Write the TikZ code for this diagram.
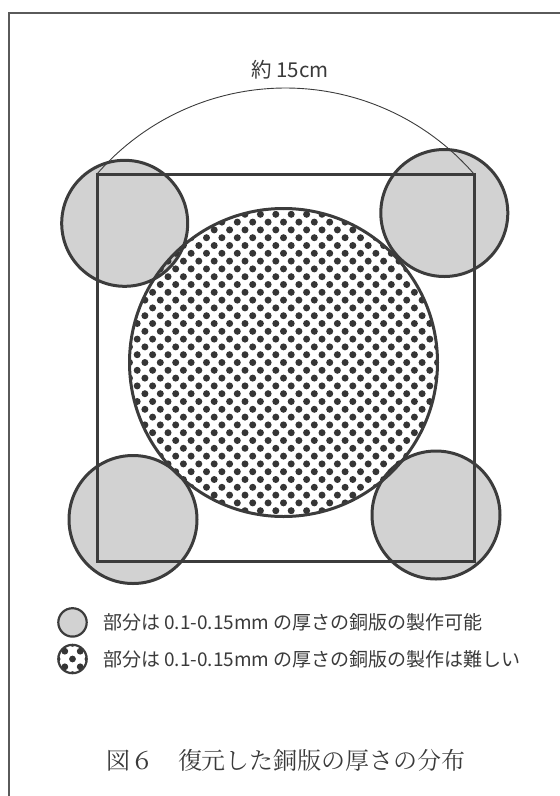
\documentclass[tikz,border=0pt]{standalone}
\usepackage{fontspec}
\newfontfamily\jpsans{Noto Sans CJK JP}
\newfontfamily\jpserif{Noto Serif CJK JP}
\definecolor{greyfill}{HTML}{D2D2D2}
\definecolor{lineg}{HTML}{3C3C3C}
\definecolor{dotg}{HTML}{353535}
\definecolor{frameg}{HTML}{5A5A5A}
\definecolor{textg}{HTML}{3A3A3A}
\tikzset{
  greycirc/.style={fill=greyfill, draw=lineg, line width=3pt},
  dotcirc/.style={draw=lineg, line width=3pt},
  sqline/.style={draw=lineg, line width=3pt},
  framel/.style={draw=frameg, line width=2pt},
  arcl/.style={draw=lineg, line width=0.9pt},
  dotfill/.style={fill=dotg},
  lab/.style={text=textg, font=\jpsans\fontsize{19}{21}\selectfont, inner sep=0pt},
  toplab/.style={text=textg, font=\jpsans\fontsize{20.5}{22}\selectfont, inner sep=0pt},
  captext/.style={text=textg, font=\jpserif\fontsize{24}{26}\selectfont, inner sep=0pt}
}
\begin{document}
\begin{tikzpicture}[x=1pt,y=-1pt]
\useasboundingbox (0,0) rectangle (560,796);
% frame (cut at right and bottom)
\draw[framel] (560,13) -- (9,13) -- (9,796);
% grey corner circles
\draw[greycirc] (124.7,223.3) circle (63pt);
\draw[greycirc] (444.3,213) circle (63.5pt);
\draw[greycirc] (133,519.5) circle (64pt);
\draw[greycirc] (436,515) circle (64pt);
% dotted big circle
\begin{scope}
  \clip (283.5,362.5) circle (154pt);
  \foreach \j in {-21,...,21}{
    \foreach \i in {-11,...,11}{
      \fill[dotfill] ({283.5+\i*15.4+mod(abs(\j),2)*7.7},{362.5+\j*7.8}) circle (3.5pt);
    }
  }
\end{scope}
\draw[dotcirc] (283.5,362.5) circle (154pt);
% square
\draw[sqline] (97,174) rectangle (474,561);
% arc
\draw[arcl] plot[domain=139:41, samples=80, smooth] ({285.5+249.6*cos(\x)},{337.6-249.6*sin(\x)});
\node[toplab] (top) at (290,70) {約 15cm};
% legend
\draw[greycirc, line width=2.2pt] (72.5,622.4) circle (14.2pt);
\begin{scope}
  \clip (72.5,659) circle (14.2pt);
  \foreach \j in {-3,...,3}{
    \foreach \i in {-2,...,2}{
      \fill[dotfill] ({72.5+\i*15.4+mod(abs(\j),2)*7.7},{659+\j*7.8}) circle (3.4pt);
    }
  }
\end{scope}
\draw[dotcirc, line width=2.2pt] (72.5,659) circle (14.2pt);
\node[lab, anchor=west] (leg1) at (103,622.4) {部分は 0.1-0.15mm の厚さの銅版の製作可能};
\node[lab, anchor=west] (leg2) at (103,659) {部分は 0.1-0.15mm の厚さの銅版の製作は難しい};
\node[captext] (caption) at (286,760) {図６　復元した銅版の厚さの分布};
\end{tikzpicture}
\end{document}
